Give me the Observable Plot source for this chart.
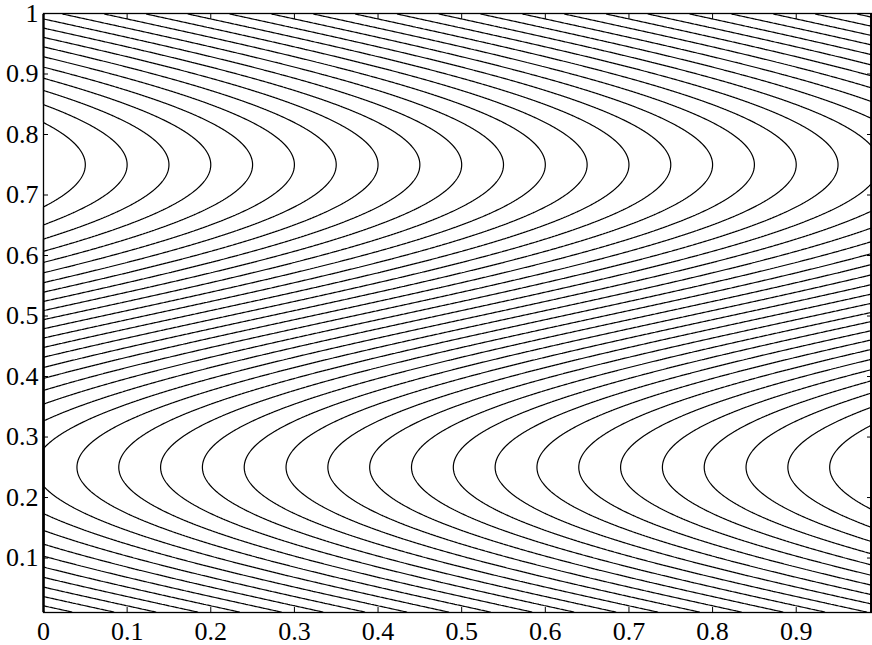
<!DOCTYPE html>
<html>
<head>
<meta charset="utf-8">
<script src="https://cdn.jsdelivr.net/npm/d3@7"></script>
<script src="https://cdn.jsdelivr.net/npm/@observablehq/plot@0.6"></script>
<style>
  html, body { margin: 0; padding: 0; background: #fff; }
  #chart svg { display: block; }
</style>
</head>
<body>
<div id="chart"></div>
<script>
// Field: contours of f(x, y) = x + amplitude * sin(2*pi*y / period)
const amplitude = 0.53;
const period = 1;
const xExtent = [0, 0.99];
const yExtent = [0.01, 1];
const levels = [-0.48, -0.43, -0.38, -0.33, -0.28, -0.23, -0.18, -0.13, -0.08, -0.03,
  0.02, 0.07, 0.12, 0.17, 0.22, 0.27, 0.32, 0.37, 0.42, 0.47,
  0.52, 0.57, 0.62, 0.67, 0.72, 0.77, 0.82, 0.87, 0.92, 0.97,
  1.02, 1.07, 1.12, 1.17, 1.22, 1.27, 1.32, 1.37, 1.42, 1.47];
const xTicks = [0, 0.1, 0.2, 0.3, 0.4, 0.5, 0.6, 0.7, 0.8, 0.9];
const yTicks = [0.1, 0.2, 0.3, 0.4, 0.5, 0.6, 0.7, 0.8, 0.9, 1];
const xTicksInner = [0.1, 0.2, 0.3, 0.4, 0.5, 0.6, 0.7, 0.8, 0.9];

const fmt = d => String(+d.toFixed(1));
const blank = () => "";
const FONT = "Liberation Serif";

const chart = Plot.plot({
  width: 872,
  height: 645,
  marginLeft: 43,
  marginRight: 1,
  marginTop: 13,
  marginBottom: 33,
  style: { background: "white", color: "black" },
  x: { domain: xExtent, axis: null },
  y: { domain: yExtent, axis: null },
  marks: [
    Plot.contour({
      x1: xExtent[0], x2: xExtent[1], y1: yExtent[0], y2: yExtent[1],
      value: (x, y) => x + amplitude * Math.sin(2 * Math.PI * y / period),
      thresholds: levels,
      pixelSize: 1,
      stroke: "black",
      strokeWidth: 1.2,
      fill: "none"
    }),
    Plot.frame({ stroke: "black", strokeWidth: 1.3 }),
    Plot.text(xTicks, { x: d => d, frameAnchor: "bottom", text: fmt, lineAnchor: "top", dy: 9, fontSize: 26, fontFamily: FONT, fill: "black" }),
    Plot.text(yTicks, { y: d => d, frameAnchor: "left", text: fmt, textAnchor: "end", dx: -5, fontSize: 26, fontFamily: FONT, fill: "black" }),
    Plot.axisX({ anchor: "bottom", ticks: xTicksInner, tickSize: -5, tickFormat: blank, label: null }),
    Plot.axisX({ anchor: "top", ticks: xTicksInner, tickSize: -5, tickFormat: blank, label: null }),
    Plot.axisY({ anchor: "left", ticks: yTicks, tickSize: -5, tickFormat: blank, label: null }),
    Plot.axisY({ anchor: "right", ticks: yTicks, tickSize: -5, tickFormat: blank, label: null })
  ]
});
document.getElementById("chart").appendChild(chart);
</script>
</body>
</html>
